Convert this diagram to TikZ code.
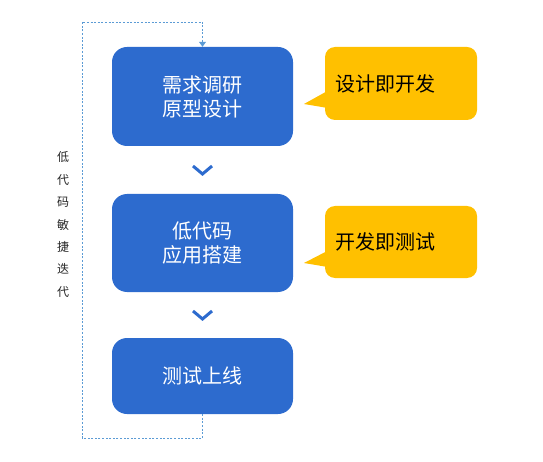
\documentclass[tikz,border=0pt]{standalone}
\usepackage{fontspec}
\setmainfont{Noto Sans CJK SC}
\usetikzlibrary{arrows.meta,calc}
\definecolor{boxblue}{HTML}{2D6BCE}
\definecolor{callyellow}{HTML}{FFC000}
\definecolor{loopblue}{HTML}{5B9BD5}
\begin{document}
\begin{tikzpicture}[x=1pt,y=-1pt,
  stepbox/.style={fill=boxblue, rounded corners=15pt, minimum width=181pt, text=white,
    font=\fontsize{20}{24}\selectfont, align=center, inner sep=0pt},
  callbox/.style={fill=callyellow, rounded corners=10pt, minimum width=152pt, minimum height=73pt,
    text width=132pt, inner xsep=10pt, inner ysep=0pt, align=left, text=black,
    font=\fontsize{20}{24}\selectfont},
  chev/.style={draw=boxblue, line width=3pt},
  loopline/.style={draw=loopblue, line width=0.9pt, dash pattern=on 2pt off 1.6pt},
  sidelabel/.style={font=\fontsize{12}{22.4}\selectfont, align=center, text=black!85}
]
\useasboundingbox (0,0) rectangle (543,462);

\node[stepbox, minimum height=99pt] (b1) at (202.5,96.5) {需求调研\\原型设计};
\node[stepbox, minimum height=98pt] (b2) at (202.5,243) {低代码\\应用搭建};
\node[stepbox, minimum height=76pt] (b3) at (202.5,376) {测试上线};

\node[callbox] (c1) at (401,83.5) {设计即开发};
\node[callbox, minimum height=72pt] (c2) at (401,242) {开发即测试};
\fill[callyellow] ($(c1.south west)+(4,-30)$) -- (304,104) -- ($(c1.south west)+(4,-12)$) -- cycle;
\fill[callyellow] ($(c2.south west)+(4,-28)$) -- (304,263) -- ($(c2.south west)+(4,-11)$) -- cycle;

\draw[chev] ($($(b1.south)!0.5!(b2.north)$)+(-9.5,-4)$) -- ++(9.5,8) -- ++(9.5,-8);
\draw[chev] ($($(b2.south)!0.5!(b3.north)$)+(-9.5,-4)$) -- ++(9.5,8) -- ++(9.5,-8);

\coordinate (lb) at (82,438);
\coordinate (lt) at (82,22);
\draw[loopline, -{Triangle[length=5pt,width=7pt]}] (b3.south) |- (lb) -- (lt) -| (b1.north);

\node[sidelabel] (side) at (63,224.5) {低\\代\\码\\敏\\捷\\迭\\代};
\end{tikzpicture}
\end{document}
